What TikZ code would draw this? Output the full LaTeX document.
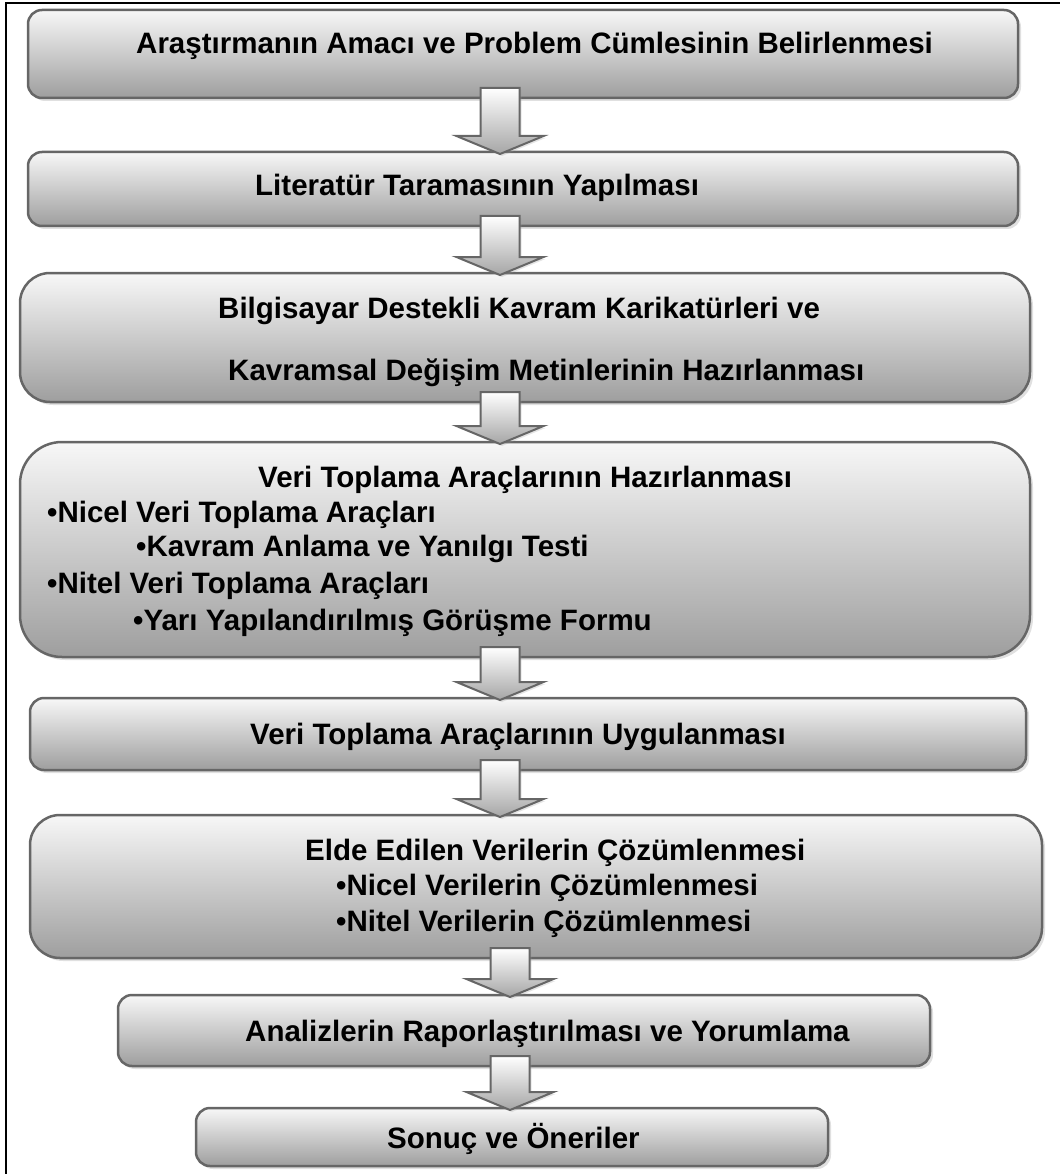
\documentclass[tikz,border=0pt]{standalone}
\usepackage{fontspec}
\setmainfont{Liberation Sans}
\usetikzlibrary{shadows,calc}
\tikzset{
  stepbox/.style={rectangle, rounded corners=14pt, draw=black!60, line width=2.5pt,
    top color=white!97!black, bottom color=black!38, inner sep=0pt, outer sep=0pt,
    drop shadow={shadow xshift=3pt, shadow yshift=-3pt, opacity=.3, fill=black!40}},
  steptext/.style={font=\bfseries\fontsize{29.5}{36}\selectfont, inner sep=0pt, anchor=base west},
  flowarr/.style={draw=black!60, line width=2pt, line join=miter,
    top color=white, bottom color=black!35,
    drop shadow={shadow xshift=2pt, shadow yshift=-2pt, opacity=.25, fill=black!40}},
}
% block arrow: from node, to node, x position
\newcommand{\flowarrow}[3]{%
  \draw[flowarr] let \p1=(#1.south), \p2=(#2.north) in
    (#3pt-19.5pt,\y1+10pt) -- (#3pt+19.5pt,\y1+10pt) -- (#3pt+19.5pt,\y2+16pt)
    -- (#3pt+43.5pt,\y2+16pt) -- (#3pt,\y2-2pt) -- (#3pt-43.5pt,\y2+16pt)
    -- (#3pt-19.5pt,\y2+16pt) -- cycle;
}
\begin{document}
\begin{tikzpicture}[x=1pt, y=-1pt]
\useasboundingbox (0,0) rectangle (1060,1174);
\draw[line width=1.5pt] (6,1174) -- (6,3) -- (1060,3);

%Boxes
\node[stepbox, minimum width=990, minimum height=88] (amac) at (523,54) {};
\node[stepbox, minimum width=990, minimum height=74] (literatur) at (523,189) {};
\node[stepbox, rounded corners=30pt, minimum width=1010, minimum height=129] (materyal) at (525,337.5) {};
\node[stepbox, rounded corners=42pt, minimum width=1010, minimum height=215] (araclar) at (525,549.5) {};
\node[stepbox, minimum width=996, minimum height=72] (uygulama) at (528,734) {};
\node[stepbox, rounded corners=30pt, minimum width=1012, minimum height=143] (cozumleme) at (536,886.5) {};
\node[stepbox, minimum width=812, minimum height=71] (rapor) at (524,1030.5) {};
\node[stepbox, minimum width=632, minimum height=58] (sonuc) at (512,1137) {};

%Arrows
\flowarrow{amac}{literatur}{500}
\flowarrow{literatur}{materyal}{500}
\flowarrow{materyal}{araclar}{500}
\flowarrow{araclar}{uygulama}{500}
\flowarrow{uygulama}{cozumleme}{500}
\flowarrow{cozumleme}{rapor}{510}
\flowarrow{rapor}{sonuc}{510}

%Texts
\node[steptext] (amac-t) at (136,54) {Araştırmanın Amacı ve Problem Cümlesinin Belirlenmesi};
\node[steptext] (literatur-t) at (255,196) {Literatür Taramasının Yapılması};
\node[steptext] (materyal-t1) at (218,318) {Bilgisayar Destekli Kavram Karikatürleri ve};
\node[steptext] (materyal-t2) at (228,380) {Kavramsal Değişim Metinlerinin Hazırlanması};
\node[steptext] (araclar-t1) at (258,487) {Veri Toplama Araçlarının Hazırlanması};
\node[steptext] (araclar-t2) at (47,522) {•Nicel Veri Toplama Araçları};
\node[steptext] (araclar-t3) at (136,556) {•Kavram Anlama ve Yanılgı Testi};
\node[steptext] (araclar-t4) at (47,593) {•Nitel Veri Toplama Araçları};
\node[steptext] (araclar-t5) at (133,630) {•Yarı Yapılandırılmış Görüşme Formu};
\node[steptext] (uygulama-t) at (250,744) {Veri Toplama Araçlarının Uygulanması};
\node[steptext] (cozumleme-t1) at (305,860) {Elde Edilen Verilerin Çözümlenmesi};
\node[steptext] (cozumleme-t2) at (336,895) {•Nicel Verilerin Çözümlenmesi};
\node[steptext] (cozumleme-t3) at (336,931) {•Nitel Verilerin Çözümlenmesi};
\node[steptext] (rapor-t) at (245,1041) {Analizlerin Raporlaştırılması ve Yorumlama};
\node[steptext] (sonuc-t) at (387,1148) {Sonuç ve Öneriler};
\end{tikzpicture}
\end{document}
